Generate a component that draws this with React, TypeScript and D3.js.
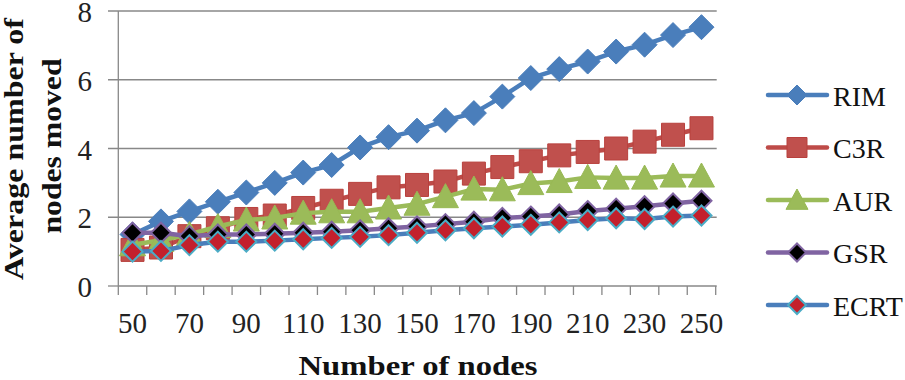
import React from "react";
import * as d3 from "d3";

const categories = [50, 60, 70, 80, 90, 100, 110, 120, 130, 140, 150, 160, 170, 180, 190, 200, 210, 220, 230, 240, 250];
const rimValues = [1.5, 1.88, 2.17, 2.45, 2.72, 3.0, 3.3, 3.52, 4.03, 4.33, 4.52, 4.82, 5.03, 5.51, 6.05, 6.31, 6.53, 6.82, 7.02, 7.3, 7.53];
const c3rValues = [1.05, 1.12, 1.45, 1.68, 1.95, 2.05, 2.27, 2.48, 2.68, 2.87, 2.94, 3.04, 3.27, 3.46, 3.63, 3.8, 3.9, 4.0, 4.2, 4.4, 4.59];
const aurValues = [1.2, 1.33, 1.5, 1.73, 1.92, 1.98, 2.12, 2.16, 2.16, 2.27, 2.38, 2.6, 2.82, 2.8, 2.98, 3.04, 3.16, 3.14, 3.14, 3.2, 3.2];
const gsrValues = [1.55, 1.55, 1.45, 1.5, 1.5, 1.52, 1.55, 1.58, 1.62, 1.68, 1.73, 1.8, 1.87, 1.98, 2.02, 2.08, 2.18, 2.25, 2.32, 2.4, 2.48];
const ecrtValues = [1.0, 1.02, 1.19, 1.29, 1.29, 1.32, 1.36, 1.4, 1.43, 1.48, 1.55, 1.62, 1.68, 1.73, 1.78, 1.85, 1.92, 1.97, 1.95, 2.02, 2.05];
const seriesNames = ["RIM", "C3R", "AUR", "GSR", "ECRT"];
const yTicks = [0, 2, 4, 6, 8];
const xTickLabels = [50, 70, 90, 110, 130, 150, 170, 190, 210, 230, 250];

type MarkerKind = "diamond" | "square" | "triangle" | "smallDiamond";
interface Style { line: string; fill: string; stroke: string; strokeW: number; marker: MarkerKind; size: number; }

const styles: Style[] = [
  { line: "#4a7ebb", fill: "#4a7ebb", stroke: "#4a7ebb", strokeW: 1, marker: "diamond", size: 12.5 },
  { line: "#be4b48", fill: "#c0504d", stroke: "#b8403d", strokeW: 1, marker: "square", size: 11.5 },
  { line: "#9bbb59", fill: "#9bbb59", stroke: "#98b954", strokeW: 1, marker: "triangle", size: 13 },
  { line: "#8064a2", fill: "#000000", stroke: "#8064a2", strokeW: 2, marker: "smallDiamond", size: 10 },
  { line: "#4a7ebb", fill: "#c3202c", stroke: "#4bacc6", strokeW: 2, marker: "smallDiamond", size: 10 },
];

function markerPath(kind: MarkerKind, s: number): string {
  if (kind === "square") return `M${-s},${-s}H${s}V${s}H${-s}Z`;
  if (kind === "triangle") return `M0,${-s}L${s},${s * 0.85}L${-s},${s * 0.85}Z`;
  return `M0,${-s}L${s},0L0,${s}L${-s},0Z`;
}

export default function App() {
  const W = 905, H = 380;
  const x0 = 118.3, x1 = 715.7, yTop = 11, yBot = 286;
  const xBand = d3.scaleBand<number>().domain(categories).range([x0, x1]).padding(0);
  const bw = xBand.bandwidth();
  const xc = (c: number) => (xBand(c) as number) + bw / 2;
  const y = d3.scaleLinear().domain([0, 8]).range([yBot, yTop]);
  const allSeries = [rimValues, c3rValues, aurValues, gsrValues, ecrtValues];
  const line = d3.line<number>().x((_, i) => xc(categories[i])).y((v) => y(v));
  const serif = "'Liberation Serif', 'Times New Roman', serif";
  const gridColor = "#888888";
  const boundaries = d3.range(categories.length + 1).map((i) => x0 + i * bw);
  const legendY = d3.scaleLinear().domain([0, 4]).range([95, 305]);

  return (
    <svg width={W} height={H} style={{ position: "absolute", left: 0, top: 0, background: "#fff" }} fontFamily={serif}>
      {yTicks.map((t) => (
        <g key={t}>
          {t > 0 && <line x1={108} x2={x1 + 1} y1={y(t)} y2={y(t)} stroke={gridColor} strokeWidth={1.3} />}
          {t === 0 && <line x1={108} x2={x0} y1={y(t)} y2={y(t)} stroke={gridColor} strokeWidth={1.3} />}
          <text x={92} y={y(t) + 11} textAnchor="end" fontSize={29} fill="#222">{t}</text>
        </g>
      ))}
      <line x1={x0} x2={x0} y1={yTop} y2={yBot} stroke={gridColor} strokeWidth={1.3} />
      <line x1={x0} x2={x1 + 1} y1={yBot} y2={yBot} stroke={gridColor} strokeWidth={1.3} />
      {boundaries.map((b, i) => (
        <line key={i} x1={b} x2={b} y1={yBot} y2={yBot + 9} stroke={gridColor} strokeWidth={1.3} />
      ))}
      {xTickLabels.map((c) => (
        <text key={c} x={xc(c)} y={333} textAnchor="middle" fontSize={29} fill="#222">{c}</text>
      ))}
      {allSeries.map((vals, si) => {
        const st = styles[si];
        return (
          <g key={seriesNames[si]}>
            <path d={line(vals) || ""} fill="none" stroke={st.line} strokeWidth={4.5} strokeLinejoin="round" strokeLinecap="round" />
            {vals.map((v, i) => (
              <path key={i} transform={`translate(${xc(categories[i])},${y(v)})`} d={markerPath(st.marker, st.size)}
                fill={st.fill} stroke={st.stroke} strokeWidth={st.strokeW} strokeLinejoin="miter" />
            ))}
          </g>
        );
      })}
      {seriesNames.map((name, si) => {
        const st = styles[si];
        const ly = legendY(si);
        const s = st.marker === "triangle" ? 11 : st.marker === "smallDiamond" ? 9 : 10;
        return (
          <g key={name}>
            <line x1={768} x2={827} y1={ly} y2={ly} stroke={st.line} strokeWidth={4.5} strokeLinecap="round" />
            <path transform={`translate(797,${ly})`} d={markerPath(st.marker, s)} fill={st.fill} stroke={st.stroke} strokeWidth={st.strokeW} />
            <text x={833} y={ly + 1} dominantBaseline="central" fontSize={28} fill="#111">{name}</text>
          </g>
        );
      })}
      <text x={418} y={375} textAnchor="middle" fontSize={27} fontWeight="bold" fill="#111" textLength={239} lengthAdjust="spacingAndGlyphs">Number of  nodes</text>
      <text transform="translate(23,149) rotate(-90)" textAnchor="middle" fontSize={27} fontWeight="bold" fill="#111" textLength={262} lengthAdjust="spacingAndGlyphs">Average number of</text>
      <text transform="translate(61,146) rotate(-90)" textAnchor="middle" fontSize={27} fontWeight="bold" fill="#111" textLength={175} lengthAdjust="spacingAndGlyphs">nodes moved</text>
    </svg>
  );
}
